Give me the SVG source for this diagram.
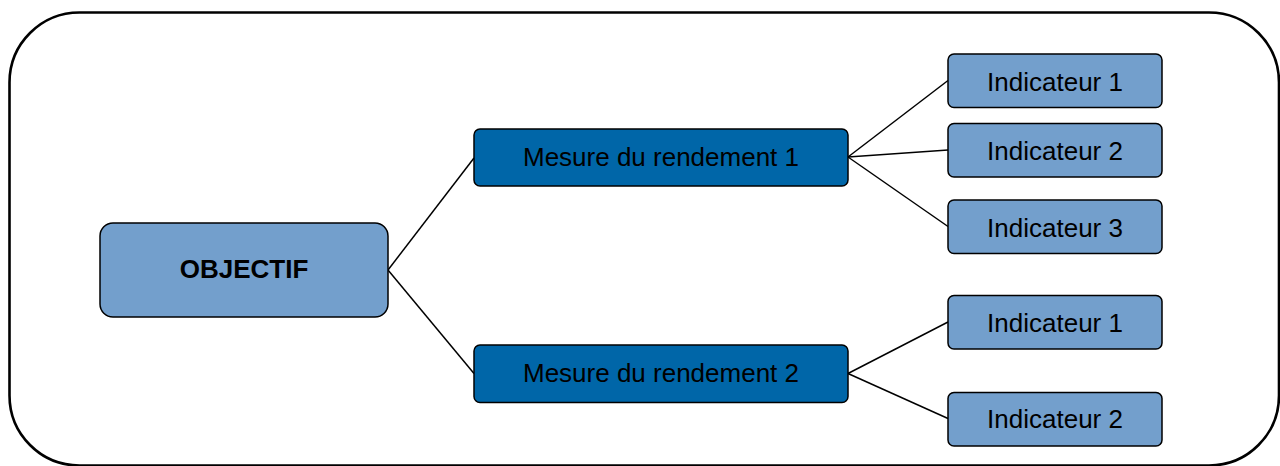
<svg xmlns="http://www.w3.org/2000/svg" width="1280" height="466" viewBox="0 0 1280 466">
<style>
.frame{fill:#fff;stroke:#000;stroke-width:2.6}
.light{fill:#739fcc;stroke:#000;stroke-width:1.5}
.dark{fill:#0066a8;stroke:#000;stroke-width:1.5}
.lbl{font-family:"Liberation Sans",Arial,sans-serif;font-size:26px;fill:#000;text-anchor:middle}
.bold{font-weight:bold}
.conn line{stroke:#000;stroke-width:1.5}
</style>
<rect x="0" y="0" width="1280" height="466" fill="#fff"/>
<rect class="frame" x="9.5" y="12.5" width="1269.5" height="453" rx="70" ry="70"/>
<g id="connectors" class="conn">
<line x1="388" y1="270" x2="474" y2="158"/>
<line x1="388" y1="270" x2="474" y2="373.5"/>
<line x1="848" y1="157" x2="948" y2="80.5"/>
<line x1="848" y1="157" x2="948" y2="150"/>
<line x1="848" y1="157" x2="948" y2="226.5"/>
<line x1="848" y1="373.5" x2="948" y2="322"/>
<line x1="848" y1="373.5" x2="948" y2="418.5"/>
</g>
<g id="objectif">
<rect class="light" x="100" y="223" width="288" height="94" rx="13"/>
<text class="lbl bold" x="244" y="278.3">OBJECTIF</text>
</g>
<g id="mesure1">
<rect class="dark" x="474" y="129" width="374" height="57" rx="6"/>
<text class="lbl" x="661" y="166">Mesure du rendement 1</text>
</g>
<g id="mesure2">
<rect class="dark" x="474" y="345" width="374" height="57.5" rx="6"/>
<text class="lbl" x="661" y="381.7">Mesure du rendement 2</text>
</g>
<g id="ind1a">
<rect class="light" x="948" y="54" width="214" height="53.5" rx="6"/>
<text class="lbl" x="1055" y="91">Indicateur 1</text>
</g>
<g id="ind2a">
<rect class="light" x="948" y="123.5" width="214" height="53.5" rx="6"/>
<text class="lbl" x="1055" y="160">Indicateur 2</text>
</g>
<g id="ind3a">
<rect class="light" x="948" y="200" width="214" height="53.5" rx="6"/>
<text class="lbl" x="1055" y="236.7">Indicateur 3</text>
</g>
<g id="ind1b">
<rect class="light" x="948" y="295.5" width="214" height="53.5" rx="6"/>
<text class="lbl" x="1055" y="331.7">Indicateur 1</text>
</g>
<g id="ind2b">
<rect class="light" x="948" y="392.5" width="214" height="53.5" rx="6"/>
<text class="lbl" x="1055" y="428.3">Indicateur 2</text>
</g>
</svg>
